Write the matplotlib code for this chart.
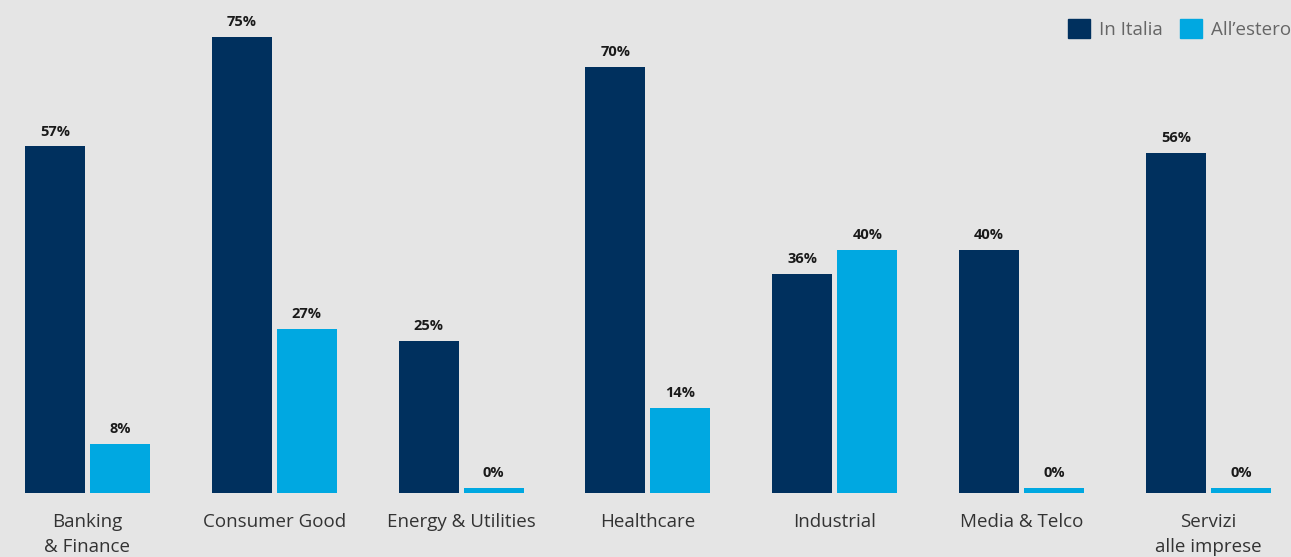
import numpy as np
import matplotlib.pyplot as plt
from matplotlib.patches import Patch

# data
categories = ['Banking\n& Finance', 'Consumer Good', 'Energy & Utilities', 'Healthcare',
              'Industrial', 'Media & Telco', 'Servizi\nalle imprese']
italia = [57, 75, 25, 70, 36, 40, 56]
estero = [8, 27, 0, 14, 40, 0, 0]
series_names = ['In Italia', 'All\u2019estero']

navy = '#00305e'
cyan = '#00a8e1'
bg = '#e5e5e5'

plt.rcParams['font.family'] = ['Open Sans', 'DejaVu Sans']

W, H = 1291, 557
fig = plt.figure(figsize=(W / 100, H / 100), dpi=100, facecolor=bg)
# axes placed in pixels: baseline at y=493 from top
ax = fig.add_axes([0, 64 / H, 1, 493 / H])
ax.set_facecolor(bg)

x = np.arange(len(categories))
px = 186.83            # pixels per category step
width = 60 / px
off = 32.5 / px
min_h = 0.8            # zero values still show a thin bar

h_it = [max(v, min_h) for v in italia]
h_es = [max(v, min_h) for v in estero]
ax.bar(x - off, h_it, width, color=navy)
ax.bar(x + off, h_es, width, color=cyan)

for xi, v, h in zip(x - off, italia, h_it):
    ax.text(xi, h + 1.3, f'{v}%', ha='center', va='bottom', fontsize=10.5,
            fontweight='bold', color='#1a1a1a')
for xi, v, h in zip(x + off, estero, h_es):
    ax.text(xi, h + 1.3, f'{v}%', ha='center', va='bottom', fontsize=10.5,
            fontweight='bold', color='#1a1a1a')

ax.set_xlim(-87.5 / px, (W - 87.5) / px)
ax.set_ylim(0, 493 / 6.08)
ax.set_xticks(x)
ax.set_xticklabels(categories, fontsize=13.5, color='#333333', linespacing=1.5)
ax.tick_params(axis='x', length=0, pad=14.5)
ax.set_yticks([])
for s in ax.spines.values():
    s.set_visible(False)

handles = [Patch(color=navy), Patch(color=cyan)]
ax.legend(handles, series_names, loc='upper right', bbox_to_anchor=(1.006, 0.976),
          frameon=False, fontsize=13.5, labelcolor='#666666', ncol=2,
          handlelength=1.17, handleheight=1.17, handletextpad=0.5, columnspacing=0.9,
          borderaxespad=0)

plt.savefig('out.png', dpi=100, facecolor=bg)
